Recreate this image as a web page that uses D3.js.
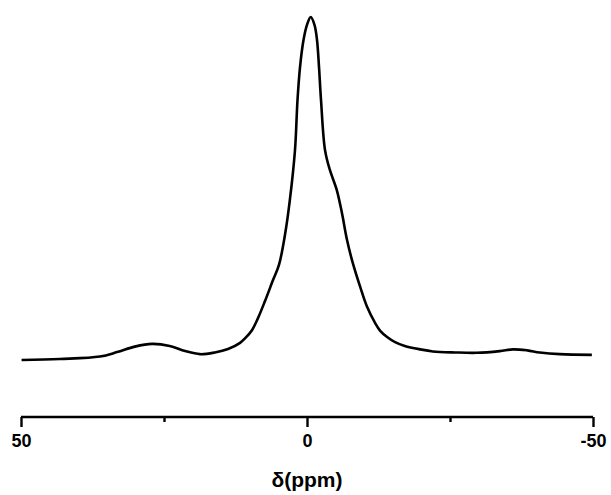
<!DOCTYPE html>
<html>
<head>
<meta charset="utf-8">
<script src="https://cdn.jsdelivr.net/npm/d3@7"></script>
<style>
  html, body { margin: 0; padding: 0; background: #fff; }
  svg { display: block; }
</style>
</head>
<body>
<svg id="chart" width="611" height="495"></svg>
<script>
// Chemical shift (ppm) and relative intensity of the NMR spectrum
const shiftPpm = [49.9, 43.2, 36.2, 33.2, 30.1, 27.1, 24.0, 21.3, 18.7, 16.1, 13.8, 11.7, 10.84, 9.62, 8.57, 7.34, 5.94, 4.9, 3.8, 3.0, 2.1, 1.66, 1.22, 0.61, 0.0, -0.65, -1.31, -1.75, -2.1, -2.45, -3.15, -4.0, -5.2, -6.1, -7.0, -8.0, -9.3, -10.5, -11.9, -12.8, -14.0, -15.4, -17.1, -19.8, -22.0, -25.9, -29.7, -33.7, -36.0, -38.5, -40.7, -44.2, -49.8];
const intensity = [0, 0.3, 1.0, 2.3, 3.9, 4.7, 4.1, 2.6, 1.7, 2.2, 3.2, 5.0, 6.3, 8.7, 12.2, 17.2, 23.3, 27.7, 37.0, 46.6, 61.2, 75.8, 85.4, 93.3, 97.7, 100, 97.7, 93.3, 85.4, 75.8, 61.2, 55.4, 49.6, 42.9, 35.0, 28.3, 21.3, 15.5, 10.8, 8.5, 6.7, 5.2, 4.1, 3.1, 2.5, 2.2, 2.1, 2.6, 3.1, 2.8, 2.2, 1.7, 1.5];
const majorTicks = [50, 0, -50];
const minorTicks = [25, -25];
const xTitle = "δ(ppm)";

const svg = d3.select("#chart");

const x = d3.scaleLinear().domain([50, -50]).range([21, 593]);
const y = d3.scaleLinear().domain([0, 100]).range([360, 17]);

const pts = shiftPpm.map((s, i) => [s, intensity[i]]);

const line = d3.line()
  .x(d => x(d[0]))
  .y(d => y(d[1]))
  .curve(d3.curveCatmullRom.alpha(0.5));

svg.append("path")
  .datum(pts)
  .attr("fill", "none")
  .attr("stroke", "#000")
  .attr("stroke-width", 2.6)
  .attr("stroke-linejoin", "round")
  .attr("d", line);

// Bottom axis with major and minor ticks
const axisY = 417;
const axisG = svg.append("g").attr("transform", `translate(0,${axisY})`);

axisG.call(d3.axisBottom(x).tickValues(majorTicks).tickSize(10).tickFormat(d => String(d)))
  .call(g => g.select(".domain").attr("d", `M${x(50)},0H${x(-50)}`).attr("stroke-width", 2.4))
  .call(g => g.selectAll(".tick line").attr("stroke-width", 2.4))
  .call(g => g.selectAll(".tick text")
    .attr("dy", "0.71em").attr("y", 17)
    .style("font-family", "'Liberation Sans', Arial, sans-serif")
    .style("font-weight", "bold")
    .style("font-size", "18px")
    .attr("fill", "#000"));

axisG.append("g")
  .call(d3.axisBottom(x).tickValues(minorTicks).tickSize(5).tickFormat(""))
  .call(g => g.select(".domain").remove())
  .call(g => g.selectAll(".tick line").attr("stroke-width", 2.4));

svg.append("text")
  .attr("x", x(0))
  .attr("y", 487)
  .attr("text-anchor", "middle")
  .style("font-family", "'Liberation Sans', Arial, sans-serif")
  .style("font-weight", "bold")
  .style("font-size", "21px")
  .text(xTitle);
</script>
</body>
</html>
